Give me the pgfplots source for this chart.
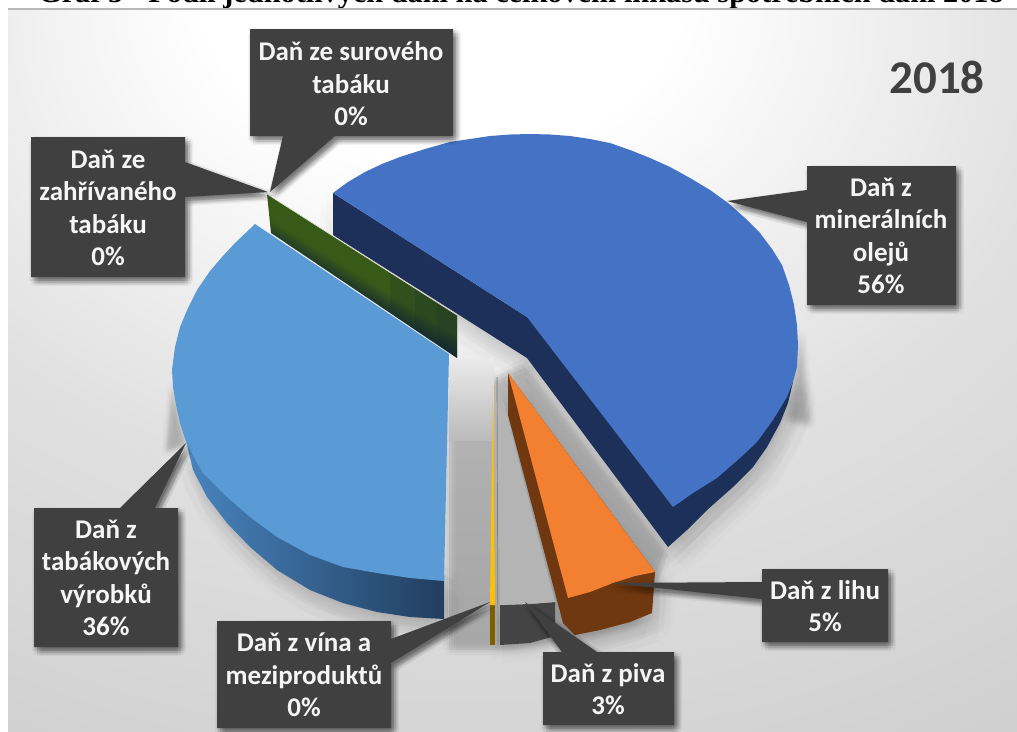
\documentclass[border=0pt]{standalone}
\usepackage{fontspec}
\usepackage{pgfplots}
\usepackage{pgfplotstable}
\pgfplotsset{compat=1.18}
\setmainfont{Carlito}
\newfontfamily\titlefont{Liberation Serif}

\definecolor{calloutgrey}{RGB}{64,64,64}
\definecolor{labelwhite}{RGB}{245,245,245}
\definecolor{oiltop}{RGB}{68,114,196}
\definecolor{oilside}{RGB}{28,48,90}
\definecolor{tobaccotop}{RGB}{91,155,213}
\definecolor{spirittop}{RGB}{243,127,48}
\definecolor{spiritside}{RGB}{112,56,16}
\definecolor{beertop}{RGB}{180,180,180}
\definecolor{beerside}{RGB}{68,68,68}
\definecolor{winetop}{RGB}{255,192,0}
\definecolor{wineside}{RGB}{127,96,0}
\definecolor{heatedgreen}{RGB}{56,90,24}
\definecolor{heateddark}{RGB}{14,34,52}

% Backdrop: bright glow in the upper middle, falling off to grey
\pgfdeclareradialshading{backdrop}{\pgfpoint{-4bp}{30bp}}{
  color(0bp)=(white);
  color(12bp)=(white);
  color(30bp)=(black!12);
  color(50bp)=(black!19);
  color(80bp)=(black!20);
  color(105bp)=(black!25)}
% Slice seen edge-on: dark along its lower side, green along the upper
\pgfdeclareverticalshading{heatedband}{100bp}{
  color(0bp)=(heateddark);
  color(43bp)=(heateddark);
  color(50bp)=(heatedgreen);
  color(100bp)=(heatedgreen)}

% Pie faces, in picture units
\pgfplotstableread{
x y
333 193
348 182
365 172
382 164
400 157
425 149
450 142
470 139
490 136
510 134.5
530 134
550 134.5
570 136
590 139
610 143
630 150
650 158
670 167
690 178
710 190
728 203
745 218
760 233
772 249
782 265
789 285
794 305
797 325
798 345
797 367
793 382
787 397
773 420
757 442
740 458
717 478
693 493
673 507
527 317
}\oiltopface
\pgfplotstableread{
x y
333 193
333 235
527 358
668 547
687 530
707 510
733 487
753 467
767 447
780 423
788 403
793 382
527 317
}\oilsideface
\pgfplotstableread{
x y
255 224
235 243
222 257
210 271
197 290
188 308
180 327
175 347
172 370
173 387
176 405
180 423
187 445
203 473
227 497
250 517
277 537
310 555
343 567
377 573
410 578
444 581
449 354
}\tobaccotopface
\pgfplotstableread{
x y
187 445
193 470
207 497
227 523
250 547
277 570
310 590
343 603
377 612
410 617
444 619
444 575
300 500
}\tobaccosideface
\pgfplotstableread{
x y
267 194
457 315
457 358
271 233
}\heatedface
\pgfplotstableread{
x y
390 272.4
457 315
457 358
390 313
}\heatedendA
\pgfplotstableread{
x y
415 288.3
457 315
457 358
415 329.8
}\heatedendB
\pgfplotstableread{
x y
437 302.3
457 315
457 358
437 344.5
}\heatedendC
\pgfplotstableread{
x y
508 373
655 572
635 576
613 583
590 592
568 598
}\spirittopface
\pgfplotstableread{
x y
508 373
508 415
563 623
575 635
600 630
630 622
652 613
655 572
}\spiritsideface
\pgfplotstableread{
x y
497 377
555 602
530 604
500 605
}\beertopface
\pgfplotstableread{
x y
500 605
530 604
555 602
555 636
530 643
500 645
}\beersideface
\pgfplotstableread{
x y
493 385
495 605
490 605
}\winetopface
\pgfplotstableread{
x y
490 605
495 605
495 645
490 645
}\winesideface
% Silhouettes used for the cast shadow
\pgfplotstableread{
x y
449 400
525 365
666 553
650 598
635 622
575 638
500 650
449 650
}\gapshadow
\pgfplotstableread{
x y
449 358
494 358
494 440
449 440
}\gapglow
\pgfplotstableread{
x y
172 385
166 452
186 445
}\leftsliver
\pgfplotstableread{
x y
800 330
811 425
788 420
}\rightsliver

% Callouts: box together with its pointer
\pgfplotstableread{
x y
250 29
453 29
453 136
335 136
270 192
283 136
250 136
}\calloutraw
\pgfplotstableread{
x y
31 137
185 137
185 162
268 192
185 197
185 277
31 277
}\calloutheated
\pgfplotstableread{
x y
807 166
956 166
956 305
807 305
807 222
727 201
807 190
}\calloutoil
\pgfplotstableread{
x y
34 508
120 508
186 443
155 508
178 508
178 647
34 647
}\callouttobacco
\pgfplotstableread{
x y
217 621
391 621
391 639
490 602
391 663
391 728
217 728
}\calloutwine
\pgfplotstableread{
x y
543 652
562 652
525 602
597 652
674 652
674 725
543 725
}\calloutbeer
\pgfplotstableread{
x y
762 569
888 569
888 642
762 642
762 599
610 583
762 582
}\calloutspirit

% Soft shadows: many faint copies of a silhouette, spread over two rings
\newcommand\shadowcopy[4]{%
  \addplot[draw=none, fill=black, opacity=#4, xshift={(#2)*1pt}, yshift={-(#3)*1pt}]
    table[x=x,y=y] {#1} --cycle;}
\newcommand\softring[5]{% table, dx, dy, radius, opacity
  \shadowcopy{#1}{#2+#4}{#3}{#5}
  \shadowcopy{#1}{#2-#4}{#3}{#5}
  \shadowcopy{#1}{#2}{#3+#4}{#5}
  \shadowcopy{#1}{#2}{#3-#4}{#5}
  \shadowcopy{#1}{#2+0.7*#4}{#3+0.7*#4}{#5}
  \shadowcopy{#1}{#2-0.7*#4}{#3+0.7*#4}{#5}
  \shadowcopy{#1}{#2+0.7*#4}{#3-0.7*#4}{#5}
  \shadowcopy{#1}{#2-0.7*#4}{#3-0.7*#4}{#5}}
\newcommand\softshadow[6]{% table, dx, dy, outer radius, inner radius, opacity
  \softring{#1}{#2}{#3}{#4}{#6}
  \softring{#1}{#2}{#3}{#5}{#6}
  \shadowcopy{#1}{#2}{#3}{#6}}
\newcommand\face[2]{%
  \addplot[draw=none, #1] table[x=x,y=y] {#2} --cycle;}
\newcommand\callout[1]{%
  \softshadow{#1}{3}{4}{5}{2.5}{.045}
  \addplot[draw=none, fill=calloutgrey] table[x=x,y=y] {#1} --cycle;}

\tikzset{
  calloutlabel/.style={text=labelwhite, align=center, inner sep=0pt,
    font=\fontsize{27}{32.5}\selectfont\bfseries}}

\begin{document}
\begin{tikzpicture}
% Heading, cut by the top edge of the panel
\node[anchor=base west, inner sep=0pt, font=\fontsize{30.3}{32}\selectfont\titlefont\bfseries]
  at (38pt,728pt) {Graf 5 - Podíl jednotlivých daní na celkovém inkasu spotřebních daní 2018};
\begin{axis}[
    scale only axis, width=1017pt, height=731pt,
    xmin=0, xmax=1017, ymin=0, ymax=731, y dir=reverse,
    hide axis, clip=false]

% Panel
\addplot[draw=none, shading=backdrop] coordinates {(8,8) (1017,8) (1017,731) (8,731)} --cycle;
\addplot[draw=black!28, line width=1.5pt] coordinates {(8,9) (1017,9)};

% Cast shadow of the pie
\softshadow{\oilsideface}{6}{12}{18}{9}{.011}
\softshadow{\tobaccosideface}{4}{10}{16}{8}{.012}
\softshadow{\spiritsideface}{6}{12}{16}{8}{.012}
\softshadow{\beersideface}{2}{6}{12}{6}{.007}
\softshadow{\gapshadow}{0}{0}{7}{3}{.013}
\softshadow{\leftsliver}{0}{0}{5}{2}{.012}
\softshadow{\rightsliver}{0}{0}{6}{3}{.012}
\addplot[draw=none, shade, top color=black!8, bottom color=black!27] table[x=x,y=y] {\gapglow} --cycle;

% Mineral oils
\face{fill=oilside}{\oilsideface}
\face{fill=oiltop}{\oiltopface}

% Tobacco products
\addplot[draw=none, shade, left color={rgb,255:red,72;green,132;blue,190},
         middle color={rgb,255:red,50;green,100;blue,150},
         right color={rgb,255:red,33;green,62;blue,95}] table[x=x,y=y] {\tobaccosideface} --cycle;
\face{fill=tobaccotop}{\tobaccotopface}

% Excise on heated tobacco and on raw tobacco (thin slice seen edge-on)
\addplot[draw=none, shading=heatedband, shading angle=-32] table[x=x,y=y] {\heatedface} --cycle;
\addplot[draw=none, fill=heateddark, opacity=.15] table[x=x,y=y] {\heatedendA} --cycle;
\addplot[draw=none, fill=heateddark, opacity=.15] table[x=x,y=y] {\heatedendB} --cycle;
\addplot[draw=none, fill=heateddark, opacity=.15] table[x=x,y=y] {\heatedendC} --cycle;
\addplot[draw={rgb,255:red,225;green,228;blue,215}, line width=.7pt] coordinates {(267,194) (457,315)};

% Wine and intermediate products
\face{fill=wineside}{\winesideface}
\face{fill=winetop}{\winetopface}

% Beer
\face{fill=beerside}{\beersideface}
\face{fill=beertop}{\beertopface}
\addplot[draw=black!50, line width=.7pt] coordinates {(497,377) (498,645)};

% Spirits
\face{fill=spiritside}{\spiritsideface}
\face{fill=spirittop}{\spirittopface}

% Callouts
\callout{\calloutraw}
\callout{\calloutheated}
\callout{\calloutoil}
\callout{\callouttobacco}
\callout{\calloutwine}
\callout{\calloutbeer}
\callout{\calloutspirit}

\node[calloutlabel] at (axis cs:351,84) {Daň ze surového\\tabáku\\0\%};
\node[calloutlabel] at (axis cs:108,208) {Daň ze\\zahřívaného\\tabáku\\0\%};
\node[calloutlabel] at (axis cs:881,236) {Daň z\\minerálních\\olejů\\56\%};
\node[calloutlabel] at (axis cs:106,578) {Daň z\\tabákových\\výrobků\\36\%};
\node[calloutlabel] at (axis cs:304,675) {Daň z vína a\\meziproduktů\\0\%};
\node[calloutlabel] at (axis cs:608,689) {Daň z piva\\3\%};
\node[calloutlabel] at (axis cs:825,606) {Daň z lihu\\5\%};
\node[text=calloutgrey, inner sep=0pt, font=\fontsize{47}{50}\selectfont\bfseries] at (axis cs:937,77) {2018};
\end{axis}
\pgfresetboundingbox
\path[use as bounding box] (0,0) rectangle (1017pt,731pt);
\end{tikzpicture}
\end{document}
